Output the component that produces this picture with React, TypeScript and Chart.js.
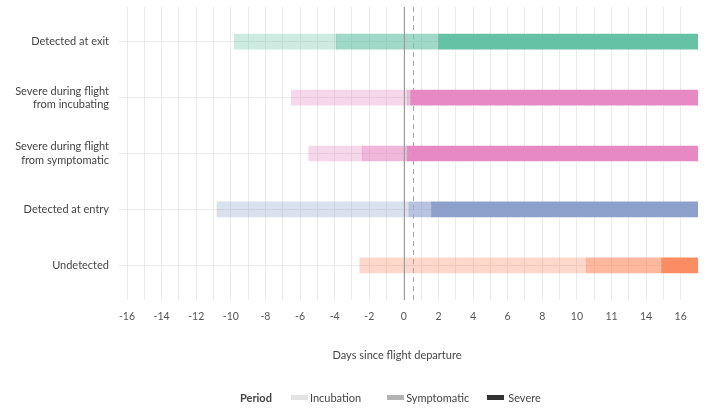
import React, { useEffect, useRef } from "react";
import { Chart, registerables } from "chart.js";

Chart.register(...registerables);

// ---- data ----
const categories: string[][] = [
  ["Detected at exit"],
  ["Severe during flight", "from incubating"],
  ["Severe during flight", "from symptomatic"],
  ["Detected at entry"],
  ["Undetected"],
];
const incubation: [number, number][] = [
  [-9.8, -3.9],
  [-6.5, 0.2],
  [-5.5, -2.4],
  [-10.8, 0.3],
  [-2.55, 10.55],
];
const symptomatic: [number, number][] = [
  [-3.9, 2.0],
  [0.2, 0.4],
  [-2.4, 0.2],
  [0.3, 1.6],
  [10.55, 14.9],
];
const severe: [number, number][] = [
  [2.0, 17],
  [0.4, 17],
  [0.2, 17],
  [1.6, 17],
  [14.9, 17],
];
const rowColors = ["102,194,165", "231,138,195", "231,138,195", "141,160,203", "252,141,98"];
const xTickValues = [-16, -14, -12, -10, -8, -6, -4, -2, 0, 2, 4, 6, 8, 10, 12, 14, 16];
const xTickLabels = ["-16", "-14", "-12", "-10", "-8", "-6", "-4", "-2", "0", "2", "4", "6", "8", "10", "11", "14", "16"];
const zeroLine = 0;
const departureLine = 0.5;
const periods = ["Incubation", "Symptomatic", "Severe"];
const legendSwatches = ["#e3e3e3", "#b3b3b3", "#333333"];

const FONT = "Lato, 'Open Sans', sans-serif";

const refLinesPlugin = {
  id: "refLines",
  afterDatasetsDraw(chart: any) {
    const { ctx, chartArea, scales } = chart;
    const x = scales.x;
    ctx.save();
    ctx.lineWidth = 1;
    const x0 = Math.round(x.getPixelForValue(zeroLine)) + 0.5;
    ctx.strokeStyle = "#9a9a9a";
    ctx.beginPath();
    ctx.moveTo(x0, chartArea.top);
    ctx.lineTo(x0, chartArea.bottom);
    ctx.stroke();
    const x1 = Math.round(x.getPixelForValue(departureLine)) + 0.5;
    ctx.strokeStyle = "#a8a8a8";
    ctx.setLineDash([5, 4]);
    ctx.beginPath();
    ctx.moveTo(x1, chartArea.top);
    ctx.lineTo(x1, chartArea.bottom);
    ctx.stroke();
    ctx.restore();
  },
};

export default function App() {
  const canvasRef = useRef<HTMLCanvasElement | null>(null);

  useEffect(() => {
    if (!canvasRef.current) return;
    const mk = (rows: [number, number][], alpha: number, label: string) => ({
      label,
      data: rows.map((r, i) => ({ x: r, y: i })),
      backgroundColor: rowColors.map((c) => `rgba(${c},${alpha})`),
      borderWidth: 0,
      barThickness: 15,
      grouped: false,
    });
    const chart = new Chart(canvasRef.current, {
      type: "bar",
      data: {
        datasets: [
          mk(incubation, 0.33, periods[0]),
          mk(symptomatic, 0.62, periods[1]),
          mk(severe, 1, periods[2]),
        ] as any,
      },
      plugins: [refLinesPlugin],
      options: {
        animation: false,
        responsive: false,
        indexAxis: "y",
        layout: { padding: { top: 7, right: 27, bottom: 42, left: 0 } },
        plugins: { legend: { display: false }, tooltip: { enabled: false } },
        scales: {
          x: {
            type: "linear",
            min: -16,
            max: 17,
            afterBuildTicks: (axis: any) => {
              const t = [];
              for (let v = -16; v <= 17; v++) t.push({ value: v });
              axis.ticks = t;
            },
            afterFit: (s: any) => {
              s.height = 70;
              s.paddingLeft = 0;
              s.paddingRight = 0;
            },
            ticks: {
              autoSkip: false,
              maxRotation: 0,
              padding: 10,
              color: "#555",
              font: { family: FONT, size: 10.5 },
              callback: (v: any) => {
                const i = xTickValues.indexOf(Number(v));
                return i >= 0 ? xTickLabels[i] : "";
              },
            },
            grid: {
              color: (ctx: any) => (ctx.tick && ctx.tick.value === 17 ? "rgba(0,0,0,0)" : "#ebebeb"),
              drawTicks: false,
            },
            border: { display: false },
            title: {
              display: true,
              text: "Days since flight departure" + "           ",
              color: "#444",
              font: { family: FONT, size: 11 },
              padding: { top: 0, bottom: 8 },
            },
          },
          y: {
            type: "linear",
            min: -0.62,
            max: 4.62,
            reverse: true,
            offset: false,
            afterBuildTicks: (axis: any) => {
              axis.ticks = categories.map((_, i) => ({ value: i }));
            },
            afterFit: (s: any) => {
              s.width = 127;
              s.paddingTop = 0;
              s.paddingBottom = 0;
            },
            ticks: {
              autoSkip: false,
              padding: 9,
              color: "#444",
              font: { family: FONT, size: 11 },
              callback: (v: any) => categories[Number(v)] as any,
            },
            grid: { color: "#ebebeb", tickLength: 9, drawTicks: true, offset: false },
            border: { display: false },
          },
        },
      } as any,
    });
    return () => chart.destroy();
  }, []);

  return (
    <div style={{ position: "absolute", left: 0, top: 0, width: 725, height: 412, background: "#fff" }}>
      <canvas ref={canvasRef} width={725} height={412} style={{ display: "block" }} />
      <div
        style={{
          position: "absolute",
          top: 389,
          left: 240,
          display: "flex",
          alignItems: "center",
          fontFamily: FONT,
          fontSize: 11,
          color: "#444",
          height: 16,
          whiteSpace: "nowrap",
        }}
      >
        <span style={{ fontWeight: 700, marginRight: 19 }}>Period</span>
        {periods.map((p, i) => (
          <span key={p} style={{ display: "flex", alignItems: "center", marginRight: i === 0 ? 26 : 18 }}>
            <span style={{ display: "inline-block", width: 17, height: 5, background: legendSwatches[i], marginRight: i === 2 ? 4 : 2 }} />
            <span>{p}</span>
          </span>
        ))}
      </div>
    </div>
  );
}
